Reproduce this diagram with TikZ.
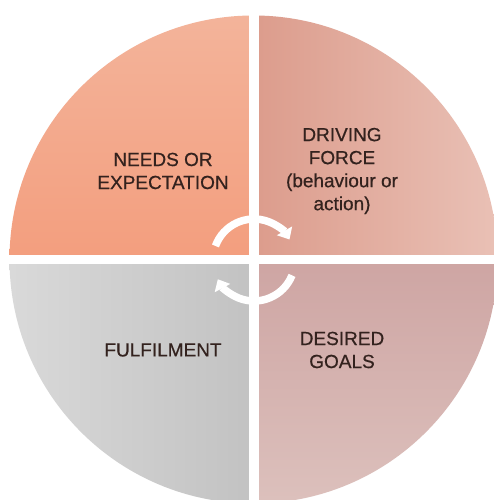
\documentclass[tikz,border=0pt]{standalone}
\usepackage{fontspec}
\setmainfont{Liberation Sans}
\newfontfamily\lblfont[FakeBold=0.6]{Liberation Sans}
\usetikzlibrary{arrows.meta}
\definecolor{tlA}{HTML}{F3B59C}
\definecolor{tlB}{HTML}{F39E7E}
\definecolor{trA}{HTML}{DC9C8C}
\definecolor{trB}{HTML}{E9C0B5}
\definecolor{blA}{HTML}{DADADA}
\definecolor{blB}{HTML}{C2C2C2}
\definecolor{brA}{HTML}{CEA5A3}
\definecolor{brB}{HTML}{DCC0BC}
\definecolor{txt}{HTML}{33221E}
\tikzset{
  lbl/.style={align=center, text=txt, font=\lblfont\fontsize{19}{23}\selectfont, inner sep=0pt},
  cyc/.style={draw=white, line width=7.5pt, -{Triangle[width=17pt,length=10pt]}}
}
\begin{document}
\begin{tikzpicture}[x=1pt,y=1pt]
\useasboundingbox (0,0) rectangle (494,500);
\fill[white] (0,0) rectangle (494,500);
\begin{scope}
  \clip (0,0) rectangle (494,500);
  \clip (253.5,240.5) circle[radius=244];
  \shade[top color=tlA, bottom color=tlB] (0,240.5) rectangle (253.5,500);
  \shade[left color=trA, right color=trB] (253.5,240.5) rectangle (494,500);
  \shade[left color=blA, right color=blB] (0,0) rectangle (253.5,240.5);
  \shade[top color=brA, bottom color=brB] (253.5,0) rectangle (494,240.5);
\end{scope}
\fill[white] (248.5,0) rectangle (258.5,500);
\fill[white] (0,236) rectangle (494,245);
\coordinate (c) at (254,240);
\draw[cyc] (c) ++(160:41) arc[start angle=160, end angle=30, radius=41];
\draw[cyc] (c) ++(-22:41) arc[start angle=-22, end angle=-152, radius=41];
\node[lbl] (needs) at (163,329) {NEEDS OR\\EXPECTATION};
\node[lbl] (drive) at (342,329) {DRIVING\\FORCE\\(behaviour or\\action)};
\node[lbl] (fulfil) at (163,150) {FULFILMENT};
\node[lbl] (goals) at (342,150) {DESIRED\\GOALS};
\end{tikzpicture}
\end{document}
